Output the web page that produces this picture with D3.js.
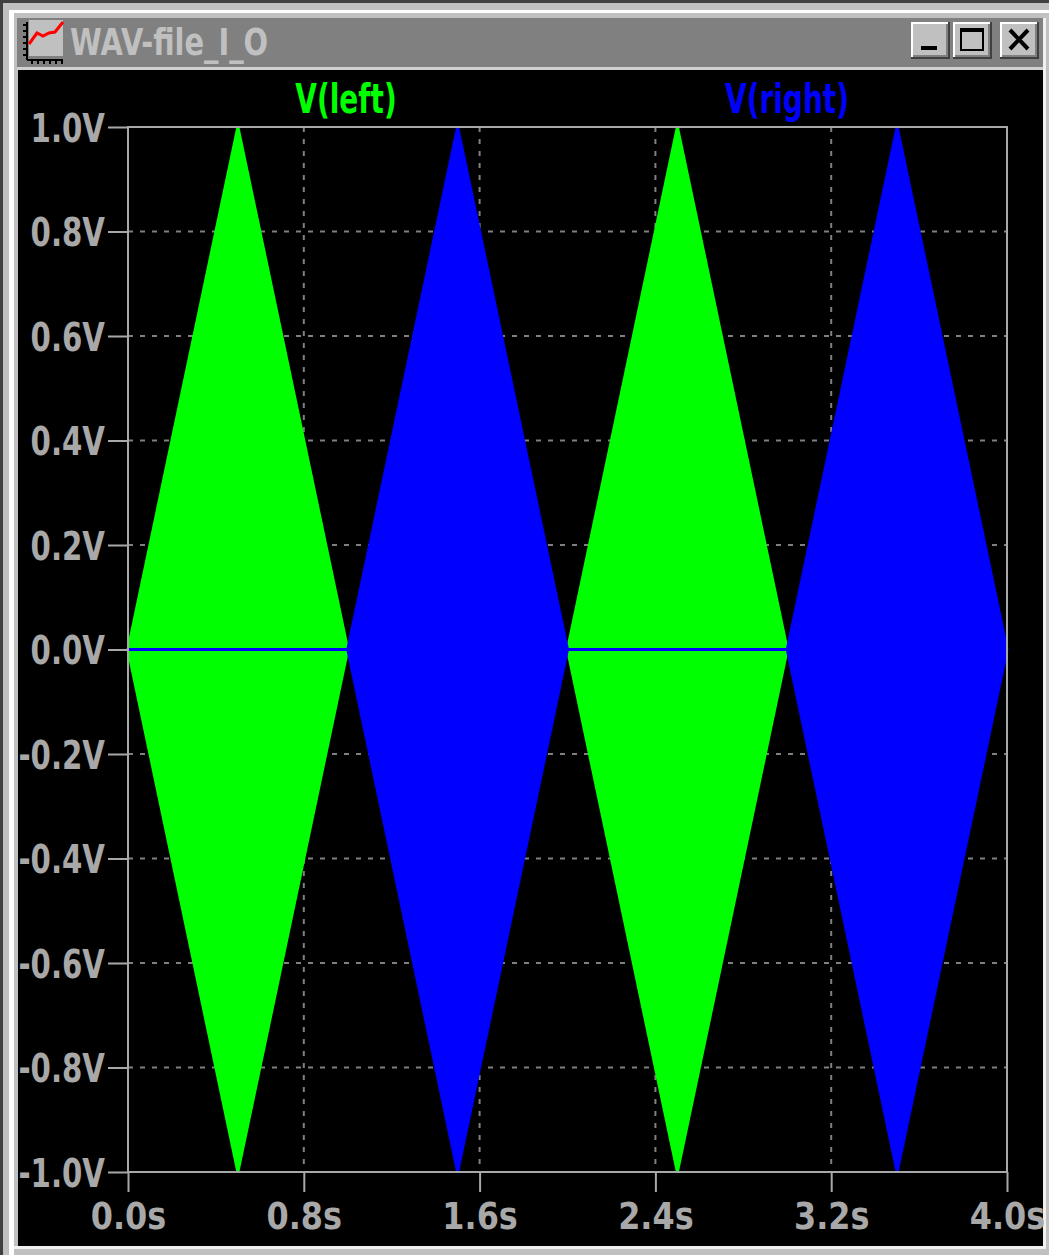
<!DOCTYPE html>
<html>
<head>
<meta charset="utf-8">
<script src="https://cdn.jsdelivr.net/npm/d3@7"></script>
<style>
  body { margin: 0; background: #c0c0c0; }
  svg { display: block; }
</style>
</head>
<body>
<svg id="chart"></svg>
<script>
// envelope of the two channels (peak amplitude of the fast oscillation)
const times      = [0, 0.5, 1, 1.5, 2, 2.5, 3, 3.5, 4];
const leftAmp    = [0, 1, 0, 0, 0, 1, 0, 0, 0];
const rightAmp   = [0, 0, 0, 1, 0, 0, 0, 1, 0];
const xTicks     = [0, 0.8, 1.6, 2.4, 3.2, 4.0];
const xLabels    = ['0.0s', '0.8s', '1.6s', '2.4s', '3.2s', '4.0s'];
const yTicks     = [1, 0.8, 0.6, 0.4, 0.2, 0, -0.2, -0.4, -0.6, -0.8, -1];
const yLabels    = ['1.0V', '0.8V', '0.6V', '0.4V', '0.2V', '0.0V', '-0.2V', '-0.4V', '-0.6V', '-0.8V', '-1.0V'];
const traces     = ['V(left)', 'V(right)'];
const traceColor = ['#00ff00', '#0000ff'];

const W = 1049, H = 1255;
const font = '"DejaVu Sans", sans-serif';

const svg = d3.select('#chart').attr('width', W).attr('height', H);

// narrow bold text (squeezed horizontally by sx); callers divide x by sx
function label(sel, size, sx) {
  return sel.style('font-family', font).style('font-size', size + 'px')
    .style('font-weight', 'bold').attr('transform', `scale(${sx},1)`);
}

// window frame
svg.append('rect').attr('x', 0).attr('y', 0).attr('width', W).attr('height', H).attr('fill', '#c0c0c0');
svg.append('rect').attr('x', 0).attr('y', 0).attr('width', W).attr('height', 3).attr('fill', '#404040');
svg.append('rect').attr('x', 0).attr('y', 0).attr('width', 3).attr('height', H).attr('fill', '#404040');
svg.append('rect').attr('x', 9).attr('y', 10).attr('width', W - 9).attr('height', 3).attr('fill', '#ffffff');
svg.append('rect').attr('x', 9).attr('y', 10).attr('width', 5).attr('height', H - 10).attr('fill', '#ffffff');
svg.append('rect').attr('x', 1043).attr('y', 18).attr('width', 3).attr('height', 1230).attr('fill', '#f0f0f0');
svg.append('rect').attr('x', 14).attr('y', 1246).attr('width', 1032).attr('height', 3).attr('fill', '#f0f0f0');

// title bar
svg.append('rect').attr('x', 17).attr('y', 18).attr('width', 1026).attr('height', 49).attr('fill', '#808080');
svg.append('rect').attr('x', 17).attr('y', 67).attr('width', 1026).attr('height', 3).attr('fill', '#d0d0d0');

// title icon
const icon = svg.append('g').attr('transform', 'translate(21,20)');
icon.append('rect').attr('x', 8).attr('y', 0).attr('width', 34).attr('height', 36).attr('fill', '#c0c0c0');
icon.append('line').attr('x1', 6).attr('y1', 2).attr('x2', 6).attr('y2', 40).attr('stroke', '#000').attr('stroke-width', 2);
icon.append('line').attr('x1', 6).attr('y1', 40).attr('x2', 42).attr('y2', 40).attr('stroke', '#000').attr('stroke-width', 2);
d3.range(6).forEach(i => {
  icon.append('rect').attr('x', 2).attr('y', 4 + i * 6).attr('width', 4).attr('height', 2).attr('fill', '#000');
  icon.append('rect').attr('x', 10 + i * 6).attr('y', 40).attr('width', 2).attr('height', 4).attr('fill', '#000');
});
icon.append('path').attr('d', 'M8,24 L16,13 L22,16 L28,13 L34,12 L42,2')
  .attr('fill', 'none').attr('stroke', '#ff0000').attr('stroke-width', 3);

const titleSX = 0.76;
label(svg.append('text').attr('x', 70 / titleSX).attr('y', 55), 38, titleSX)
  .attr('fill', '#c0c0c0').text('WAV-file_I_O');

// caption buttons
function button(x, draw) {
  const g = svg.append('g').attr('transform', `translate(${x},22)`);
  g.append('rect').attr('width', 39).attr('height', 37).attr('fill', '#404040');
  g.append('rect').attr('width', 37).attr('height', 35).attr('fill', '#ffffff');
  g.append('rect').attr('x', 2).attr('y', 2).attr('width', 35).attr('height', 33).attr('fill', '#808080');
  g.append('rect').attr('x', 2).attr('y', 2).attr('width', 33).attr('height', 31).attr('fill', '#c0c0c0');
  draw(g);
}
button(911, g => g.append('rect').attr('x', 10).attr('y', 24).attr('width', 16).attr('height', 4).attr('fill', '#000'));
button(953, g => {
  g.append('rect').attr('x', 8).attr('y', 7).attr('width', 22).attr('height', 21)
    .attr('fill', 'none').attr('stroke', '#000').attr('stroke-width', 2);
  g.append('rect').attr('x', 8).attr('y', 6).attr('width', 22).attr('height', 4).attr('fill', '#000');
});
button(1000, g => g.append('path').attr('d', 'M10,8 L28,27 M28,8 L10,27')
  .attr('stroke', '#000').attr('stroke-width', 4));

// plot background
svg.append('rect').attr('x', 18).attr('y', 70).attr('width', 1025).attr('height', 1176).attr('fill', '#000');

const x = d3.scaleLinear().domain([0, 4]).range([128, 1007]);
const y = d3.scaleLinear().domain([-1, 1]).range([1172, 127]);

// dashed grid
const grid = svg.append('g').attr('stroke', '#808080').attr('stroke-width', 2).attr('stroke-dasharray', '5,7');
grid.selectAll('.gx').data(xTicks.slice(1, -1)).join('line')
  .attr('x1', d => x(d)).attr('x2', d => x(d)).attr('y1', y(1)).attr('y2', y(-1));
grid.selectAll('.gy').data(yTicks.slice(1, -1)).join('line')
  .attr('x1', x(0)).attr('x2', x(4)).attr('y1', d => y(d)).attr('y2', d => y(d));

// traces as envelope areas
const series = [leftAmp, rightAmp];
const area = d3.area()
  .x((d, i) => x(times[i]))
  .y0(d => y(-d))
  .y1(d => y(d));
series.forEach((s, k) => {
  svg.append('path').datum(s)
    .attr('d', area)
    .attr('fill', traceColor[k])
    .attr('stroke', traceColor[k])
    .attr('stroke-width', 3);
});

// frame and axes
const axisColor = '#a8a8a8';
svg.append('rect').attr('x', x(0)).attr('y', y(1)).attr('width', x(4) - x(0)).attr('height', y(-1) - y(1))
  .attr('fill', 'none').attr('stroke', axisColor).attr('stroke-width', 2);

const xAxis = d3.axisBottom(x).tickValues(xTicks).tickSize(20).tickPadding(8)
  .tickFormat((d, i) => xLabels[i]);
const gx = svg.append('g').attr('transform', `translate(0,${y(-1)})`).call(xAxis);
const yAxis = d3.axisLeft(y).tickValues(yTicks).tickSize(20).tickPadding(3)
  .tickFormat((d, i) => yLabels[i]);
const gy = svg.append('g').attr('transform', `translate(${x(0)},0)`).call(yAxis);

[gx, gy].forEach(g => {
  g.select('.domain').remove();
  g.selectAll('line').attr('stroke', axisColor).attr('stroke-width', 2);
});
const xSX = 0.84, ySX = 0.75;
label(gx.selectAll('text').attr('fill', axisColor), 38, xSX).attr('dy', '0.76em');
label(gy.selectAll('text').attr('fill', axisColor), 39, ySX).attr('dy', '0.36em').attr('x', -23 / ySX);

// trace legend
const legendX = [346, 787];
const legSX = 0.7;
label(svg.selectAll('.legend').data(traces).join('text'), 40, legSX)
  .attr('x', (d, i) => legendX[i] / legSX).attr('y', 113)
  .attr('text-anchor', 'middle')
  .attr('fill', (d, i) => traceColor[i])
  .text(d => d);
</script>
</body>
</html>
